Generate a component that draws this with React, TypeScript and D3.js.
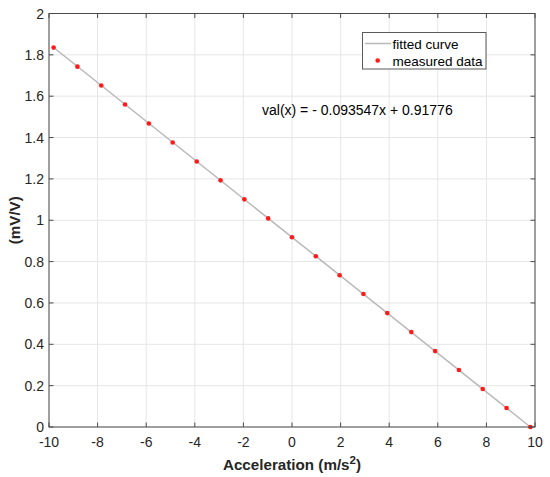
import React from "react";
import * as d3 from "d3";

const accel = [-9.81, -8.83, -7.85, -6.87, -5.89, -4.91, -3.92, -2.94, -1.96, -0.98, 0, 0.98, 1.96, 2.94, 3.92, 4.91, 5.89, 6.87, 7.85, 8.83, 9.81];
const voltage = [1.835, 1.743, 1.652, 1.560, 1.468, 1.376, 1.284, 1.193, 1.101, 1.009, 0.918, 0.826, 0.734, 0.643, 0.551, 0.459, 0.367, 0.276, 0.184, 0.092, 0.0];
const fitX = [-9.81, 9.81];
const fitY = [1.8355, 0.0001];
const xTicks = [-10, -8, -6, -4, -2, 0, 2, 4, 6, 8, 10];
const yTicks = [0, 0.2, 0.4, 0.6, 0.8, 1, 1.2, 1.4, 1.6, 1.8, 2];
const legendLabels = ["fitted curve", "measured data"];
const equation = "val(x) = - 0.093547x + 0.91776";

const W = 550, H = 477;
const L = 49, R = 535, T = 13.5, B = 427;
const FONT = "'Liberation Sans', Arial, Helvetica, sans-serif";
const AX = "#4a4a4a";

export default function App() {
  const x = d3.scaleLinear().domain([-10, 10]).range([L, R]);
  const y = d3.scaleLinear().domain([0, 2]).range([B, T]);
  const line = d3.line<number>().x((d, i) => x(fitX[i])).y((d, i) => y(fitY[i]));
  const tl = 4.5;
  return (
    <div style={{ position: "absolute", left: 0, top: 0 }}>
      <svg width={W} height={H} style={{ display: "block", background: "#fff" }} fontFamily={FONT}>
        <rect x={0} y={0} width={W} height={H} fill="#fff" />
        {/* grid */}
        {xTicks.map((t) => (
          <line key={"gx" + t} x1={x(t)} x2={x(t)} y1={T} y2={B} stroke="#e6e6e6" strokeWidth={1} />
        ))}
        {yTicks.map((t) => (
          <line key={"gy" + t} x1={L} x2={R} y1={y(t)} y2={y(t)} stroke="#e6e6e6" strokeWidth={1} />
        ))}
        {/* fitted line */}
        <path d={line(fitY) || ""} fill="none" stroke="#b8b8b8" strokeWidth={1.5} />
        {/* points */}
        {accel.map((a, i) => (
          <circle key={"p" + i} cx={x(a)} cy={y(voltage[i])} r={2.3} fill="#ff1a1a" />
        ))}
        {/* axes box */}
        <rect x={L} y={T} width={R - L} height={B - T} fill="none" stroke={AX} strokeWidth={1} />
        {xTicks.map((t) => (
          <g key={"tx" + t}>
            <line x1={x(t)} x2={x(t)} y1={B} y2={B - tl} stroke={AX} />
            <line x1={x(t)} x2={x(t)} y1={T} y2={T + tl} stroke={AX} />
            <text x={x(t)} y={B + 20} textAnchor="middle" fontSize={14} fill="#262626">{t}</text>
          </g>
        ))}
        {yTicks.map((t) => (
          <g key={"ty" + t}>
            <line x1={L} x2={L + tl} y1={y(t)} y2={y(t)} stroke={AX} />
            <line x1={R} x2={R - tl} y1={y(t)} y2={y(t)} stroke={AX} />
            <text x={L - 5} y={y(t) + 5} textAnchor="end" fontSize={14} fill="#262626">{t}</text>
          </g>
        ))}
        {/* axis labels */}
        <text x={(L + R) / 2} y={470} textAnchor="middle" fontSize={15.2} fontWeight="bold" fill="#262626">
          Acceleration (m/s<tspan dy={-6} fontSize={11.5}>2</tspan><tspan dy={6}>)</tspan>
        </text>
        <text transform={`translate(20,${(T + B) / 2}) rotate(-90)`} textAnchor="middle" fontSize={15.2} fontWeight="bold" fill="#262626">
          (mV/V)
        </text>
        {/* legend */}
        <rect x={362.5} y={32.5} width={123.5} height={36.5} fill="#fff" stroke="#5a5a5a" strokeWidth={1} />
        <line x1={365} x2={391} y1={43.5} y2={43.5} stroke="#b8b8b8" strokeWidth={1.5} />
        <circle cx={377.7} cy={60.5} r={2.3} fill="#ff1a1a" />
        <text x={392.5} y={48.5} fontSize={13.5} fill="#000">{legendLabels[0]}</text>
        <text x={392.5} y={65.5} fontSize={13.5} fill="#000">{legendLabels[1]}</text>
        {/* equation */}
        <text x={262} y={115} fontSize={14} fill="#000">{equation}</text>
      </svg>
    </div>
  );
}
